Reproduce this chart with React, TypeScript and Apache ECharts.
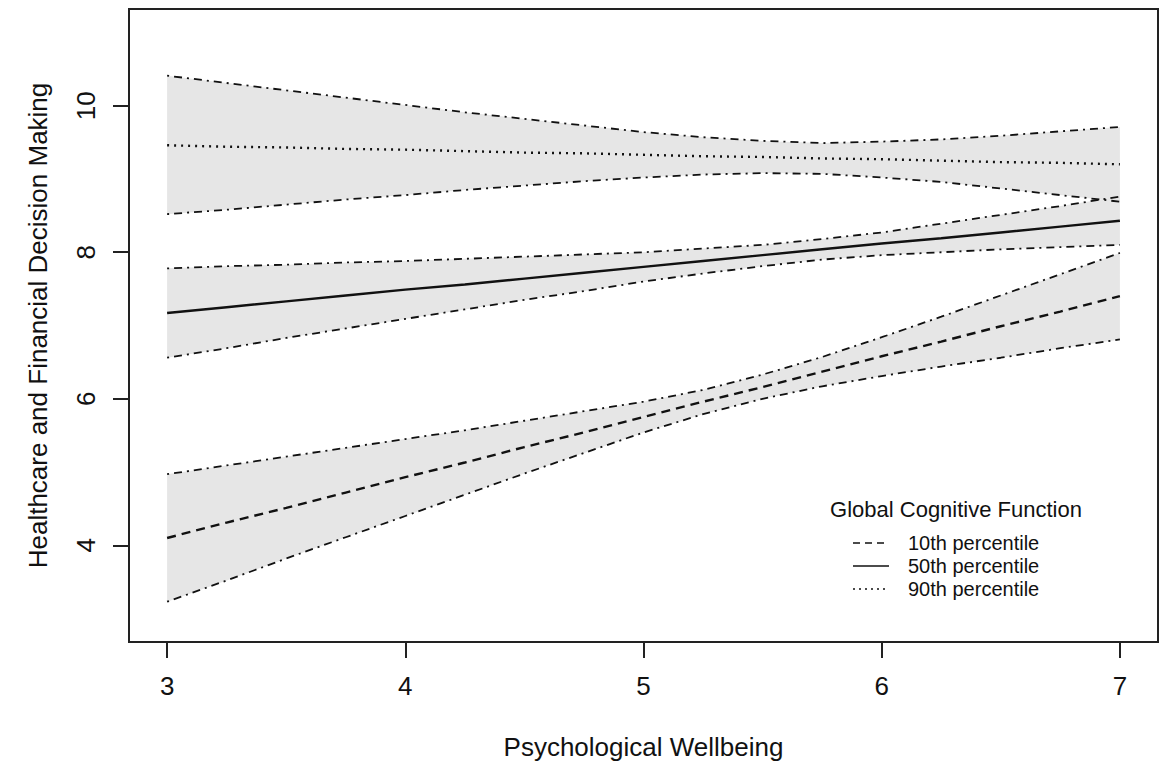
import React, { useEffect, useRef } from "react";
import * as echarts from "echarts";

// Psychological Wellbeing values at which the fitted lines / bands are read
const xValues = [3, 3.25, 3.5, 3.75, 4, 4.25, 4.5, 4.75, 5, 5.25, 5.5, 5.75, 6, 6.25, 6.5, 6.75, 7];

// 10th percentile of Global Cognitive Function
const upper10 = [4.97, 5.09, 5.21, 5.33, 5.45, 5.57, 5.70, 5.83, 5.96, 6.12, 6.33, 6.57, 6.84, 7.12, 7.41, 7.70, 7.99];
const center10 = [4.10, 4.31, 4.51, 4.72, 4.93, 5.13, 5.34, 5.54, 5.75, 5.96, 6.16, 6.37, 6.58, 6.78, 6.99, 7.19, 7.40];
const lower10 = [3.23, 3.52, 3.82, 4.11, 4.40, 4.69, 4.98, 5.26, 5.54, 5.79, 6.00, 6.17, 6.31, 6.44, 6.56, 6.69, 6.81];

// 50th percentile
const upper50 = [7.78, 7.81, 7.83, 7.86, 7.88, 7.91, 7.94, 7.97, 8.00, 8.05, 8.10, 8.18, 8.27, 8.39, 8.51, 8.63, 8.76];
const center50 = [7.17, 7.25, 7.33, 7.41, 7.49, 7.56, 7.64, 7.72, 7.80, 7.88, 7.96, 8.04, 8.12, 8.19, 8.27, 8.35, 8.43];
const lower50 = [6.56, 6.69, 6.83, 6.96, 7.09, 7.22, 7.35, 7.47, 7.60, 7.71, 7.81, 7.90, 7.96, 8.00, 8.04, 8.07, 8.10];

// 90th percentile
const upper90 = [10.41, 10.31, 10.21, 10.11, 10.01, 9.91, 9.82, 9.73, 9.64, 9.57, 9.52, 9.49, 9.51, 9.54, 9.59, 9.65, 9.71];
const center90 = [9.46, 9.44, 9.43, 9.41, 9.40, 9.38, 9.36, 9.35, 9.33, 9.31, 9.30, 9.28, 9.27, 9.25, 9.23, 9.22, 9.20];
const lower90 = [8.52, 8.58, 8.65, 8.72, 8.78, 8.85, 8.91, 8.97, 9.02, 9.06, 9.08, 9.07, 9.02, 8.96, 8.87, 8.78, 8.69];

const xTicks = [3, 4, 5, 6, 7];
const yTicks = [4, 6, 8, 10];

const xTitle = "Psychological Wellbeing";
const yTitle = "Healthcare and Financial Decision Making";
const legendTitle = "Global Cognitive Function";
const legendLabels = ["10th percentile", "50th percentile", "90th percentile"];

const FONT = "'Liberation Sans', Arial, Helvetica, sans-serif";
const INK = "#111";
const BAND = "#e6e6e6";
const DOTDASH = [2, 5, 8, 5];
const DASHED = [9, 6];
const DOTTED = [2, 5];

export default function App() {
  const ref = useRef<HTMLDivElement>(null);

  useEffect(() => {
    if (!ref.current) return;
    const chart = echarts.init(ref.current, null, { renderer: "svg" });

    const pair = (ys: number[]) => xValues.map((x, i) => [x, ys[i]]);

    const bands = [
      { lo: lower10, hi: upper10 },
      { lo: lower50, hi: upper50 },
      { lo: lower90, hi: upper90 },
    ];

    const bandSeries = {
      type: "custom",
      name: "bands",
      silent: true,
      clip: true,
      z: 1,
      data: bands.map((b) => [xValues[0], b.lo[0]]),
      renderItem: (params: any, api: any) => {
        const b = bands[params.dataIndex];
        const top = xValues.map((x, i) => api.coord([x, b.hi[i]]));
        const bottom = xValues.map((x, i) => api.coord([x, b.lo[i]])).reverse();
        return {
          type: "polygon",
          shape: { points: top.concat(bottom) },
          style: { fill: BAND, stroke: "none" },
          silent: true,
        };
      },
    };

    const line = (name: string, ys: number[], dash: any, width: number) => ({
      type: "line",
      name,
      data: pair(ys),
      symbol: "none",
      silent: true,
      lineStyle: { color: INK, width, type: dash, cap: "butt" },
      z: 3,
    });

    const legendRows = [543, 566, 589];
    const legendDash: any[] = [[7, 5], null, [2, 4]];

    const graphic: any[] = [
      {
        type: "text",
        x: 956,
        y: 509,
        z: 100,
        style: {
          text: legendTitle,
          fontSize: 22,
          fontFamily: FONT,
          fill: INK,
          align: "center",
          verticalAlign: "middle",
        },
      },
    ];
    legendLabels.forEach((lab, i) => {
      const st: any = { stroke: INK, lineWidth: 1.5 };
      if (legendDash[i]) st.lineDash = legendDash[i];
      graphic.push({
        type: "line",
        z: 100,
        shape: { x1: 853, y1: legendRows[i], x2: 889, y2: legendRows[i] },
        style: st,
      });
      graphic.push({
        type: "text",
        x: 908,
        y: legendRows[i],
        z: 100,
        style: {
          text: lab,
          fontSize: 20,
          fontFamily: FONT,
          fill: INK,
          align: "left",
          verticalAlign: "middle",
        },
      });
    });

    chart.setOption({
      animation: false,
      backgroundColor: "#ffffff",
      grid: {
        left: 129,
        top: 9,
        right: 2,
        bottom: 124,
        show: true,
        borderColor: "#222",
        borderWidth: 2,
        backgroundColor: "transparent",
      },
      xAxis: {
        type: "value",
        min: 2.84,
        max: 7.16,
        name: xTitle,
        nameLocation: "middle",
        nameGap: 92,
        nameTextStyle: { fontSize: 26, fontFamily: FONT, color: INK },
        axisLine: { show: false },
        splitLine: { show: false },
        axisTick: {
          show: true,
          length: 16,
          customValues: xTicks,
          lineStyle: { color: "#222", width: 2 },
        },
        axisLabel: {
          customValues: xTicks,
          fontSize: 26,
          fontFamily: FONT,
          color: INK,
          margin: 31,
        },
      },
      yAxis: {
        type: "value",
        min: 2.68,
        max: 11.32,
        name: yTitle,
        nameLocation: "middle",
        nameRotate: 90,
        nameGap: 78,
        nameTextStyle: { fontSize: 26, fontFamily: FONT, color: INK },
        axisLine: { show: false },
        splitLine: { show: false },
        axisTick: {
          show: true,
          length: 16,
          customValues: yTicks,
          lineStyle: { color: "#222", width: 2 },
        },
        axisLabel: {
          customValues: yTicks,
          rotate: 90,
          fontSize: 26,
          fontFamily: FONT,
          color: INK,
          margin: 30,
        },
      },
      series: [
        bandSeries,
        line("u10", upper10, DOTDASH, 1.8),
        line("l10", lower10, DOTDASH, 1.8),
        line("c10", center10, DASHED, 2.4),
        line("u50", upper50, DOTDASH, 1.8),
        line("l50", lower50, DOTDASH, 1.8),
        line("c50", center50, "solid", 2.4),
        line("u90", upper90, DOTDASH, 1.8),
        line("l90", lower90, DOTDASH, 1.8),
        line("c90", center90, DOTTED, 2.4),
      ],
      graphic,
    });

    return () => chart.dispose();
  }, []);

  return (
    <div
      ref={ref}
      style={{ position: "absolute", left: 0, top: 0, width: 1160, height: 766, background: "#fff" }}
    />
  );
}
